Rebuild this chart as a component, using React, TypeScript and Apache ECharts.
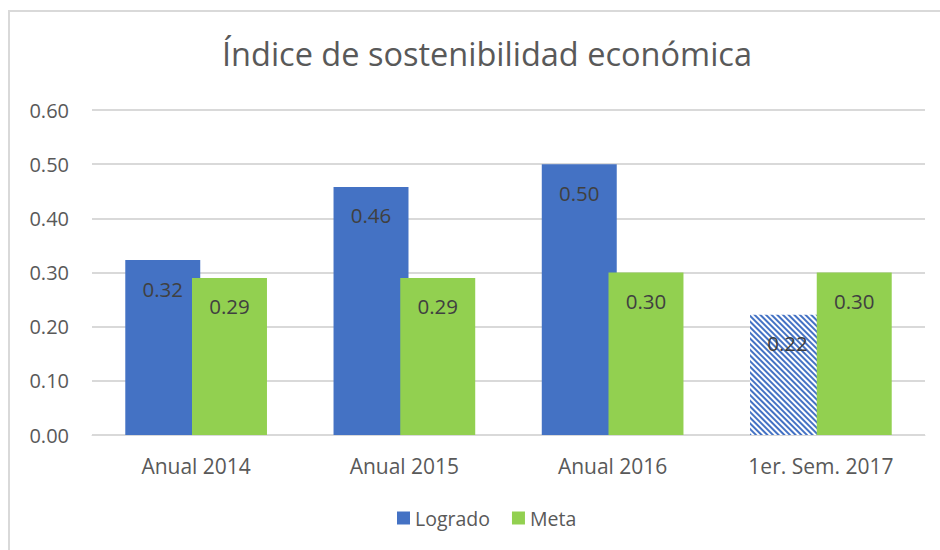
import React, { useEffect, useRef } from "react";
import * as echarts from "echarts";

const categories = ["Anual 2014", "Anual 2015", "Anual 2016", "1er. Sem. 2017"];
const logrado = [0.323, 0.458, 0.5, 0.222];
const meta = [0.29, 0.29, 0.3, 0.3];
const hatchedIndex = 3;
const titleText = "Índice de sostenibilidad económica";

const FONT = "'Open Sans', 'Noto Sans', sans-serif";
const BLUE = "#4472C4";
const GREEN = "#92D050";

export default function App() {
  const ref = useRef<HTMLDivElement>(null);
  useEffect(() => {
    if (!ref.current) return;
    const chart = echarts.init(ref.current, undefined, { renderer: "svg" });
    const labelCfg = {
      show: true,
      position: "insideTop" as const,
      distance: 18,
      fontFamily: FONT,
      fontSize: 20.5,
      color: "#404040",
      formatter: (p: any) => Number(p.value).toFixed(2),
    };
    chart.setOption({
      animation: false,
      backgroundColor: "#ffffff",
      textStyle: { fontFamily: FONT },
      title: {
        text: titleText,
        left: 217,
        top: 32,
        textStyle: { fontFamily: FONT, fontSize: 32.5, fontWeight: "normal", color: "#595959" },
      },
      graphic: [
        {
          type: "rect",
          shape: { x: 9, y: 11, width: 2000, height: 2000 },
          style: { fill: "none", stroke: "#d9d9d9", lineWidth: 2 },
          silent: true,
        },
      ],
      legend: {
        bottom: 17,
        left: 392,
        icon: "rect",
        itemWidth: 13,
        itemHeight: 13,
        itemGap: 22,
        textStyle: { fontFamily: FONT, fontSize: 19.5, color: "#595959" },
        data: ["Logrado", "Meta"],
      },
      grid: { left: 92, right: 15, top: 110, bottom: 115 },
      xAxis: {
        type: "category",
        data: categories,
        axisLine: { lineStyle: { color: "#d9d9d9", width: 1 } },
        axisTick: { show: false },
        axisLabel: { fontFamily: FONT, fontSize: 21, color: "#595959", margin: 20 },
      },
      yAxis: {
        type: "value",
        min: 0,
        max: 0.6,
        interval: 0.1,
        axisLine: { show: false },
        axisTick: { show: false },
        splitLine: { lineStyle: { color: "#d9d9d9", width: 2 } },
        axisLabel: {
          fontFamily: FONT,
          fontSize: 20,
          color: "#595959",
          margin: 23,
          formatter: (v: number) => v.toFixed(2),
        },
      },
      series: [
        {
          name: "Logrado",
          type: "bar",
          barWidth: "36%",
          barGap: "-11%",
          itemStyle: { color: BLUE },
          label: labelCfg,
          data: logrado.map((v, i) =>
            i === hatchedIndex
              ? {
                  value: v,
                  itemStyle: {
                    color: "#ffffff",
                    decal: {
                      symbol: "rect",
                      color: BLUE,
                      backgroundColor: "#ffffff",
                      dashArrayX: [1, 0],
                      dashArrayY: [2, 2],
                      rotation: Math.PI / 4,
                    },
                  },
                }
              : v
          ),
        },
        {
          name: "Meta",
          type: "bar",
          barWidth: "36%",
          itemStyle: { color: GREEN },
          label: labelCfg,
          data: meta,
        },
      ],
    });
    return () => chart.dispose();
  }, []);
  return (
    <div
      ref={ref}
      style={{ position: "absolute", left: 0, top: 0, width: 940, height: 550 }}
    />
  );
}
